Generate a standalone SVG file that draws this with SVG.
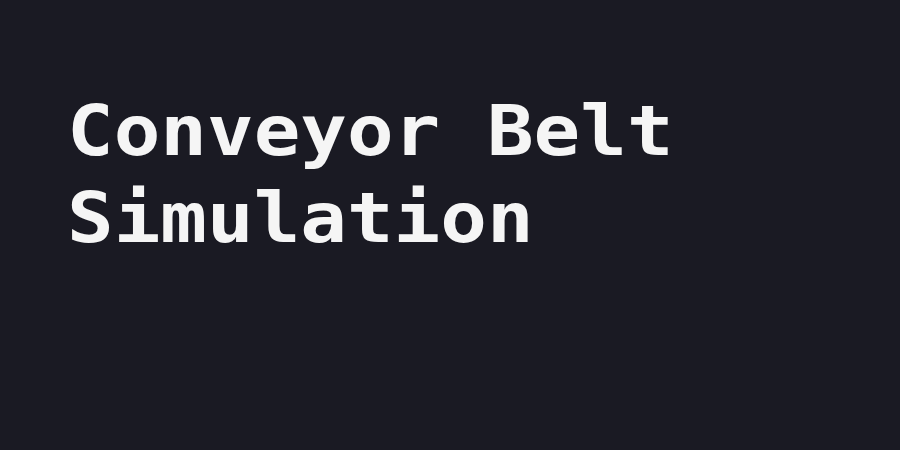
<svg xmlns="http://www.w3.org/2000/svg" width="900" height="450" viewBox="0 0 900 450">
<style>
.t{font-family:"DejaVu Sans Mono","Liberation Mono",monospace;font-weight:bold;font-size:77.5px;fill:#f5f5f5}
</style>
<rect width="900" height="450" fill="#1a1a23"/>
<g id="title">
<text class="t" transform="translate(67,155) scale(1,0.89)">Conveyor Belt</text>
<text class="t" transform="translate(67,242) scale(1,0.89)">Simulation</text>
</g>
</svg>
